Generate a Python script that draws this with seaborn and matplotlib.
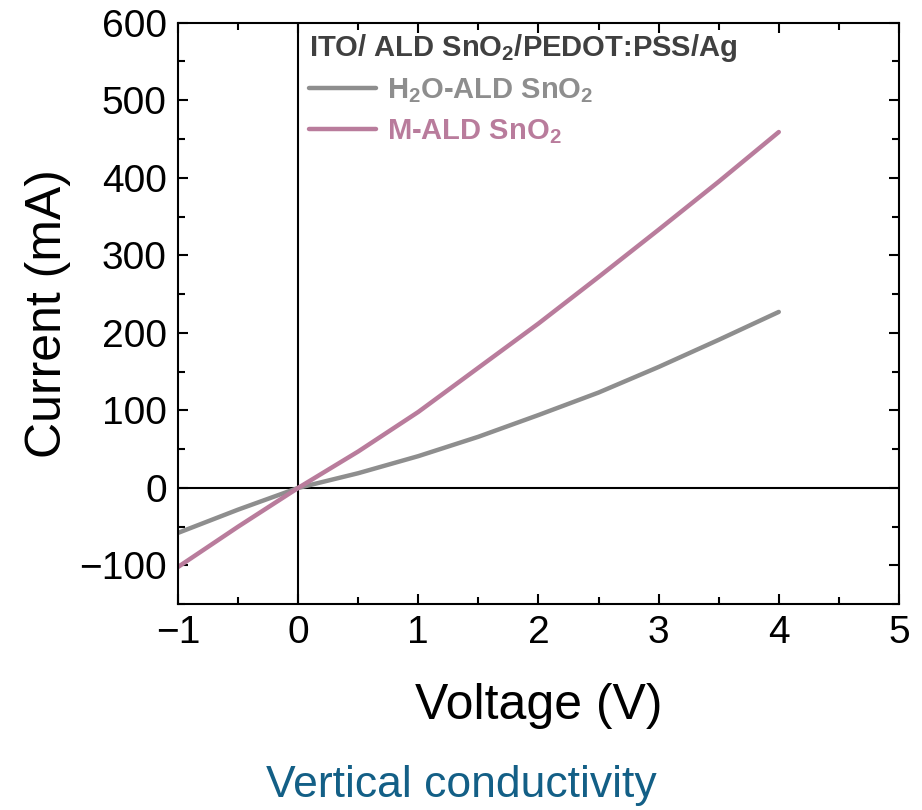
import pandas as pd
import matplotlib
matplotlib.use("Agg")
import matplotlib.pyplot as plt
import seaborn as sns

voltage = [-1, -0.5, 0, 0.5, 1, 1.5, 2, 2.5, 3, 3.5, 4]
current_h2o = [-58, -28, 0, 19, 41, 66, 94, 123, 156, 191, 227]
current_m = [-102, -50, 0, 47, 98, 155, 212, 272, 333, 395, 459]
labels = [r"H$_\mathbf{2}$O-ALD SnO$_\mathbf{2}$", r"M-ALD SnO$_\mathbf{2}$"]
colors = ["#8e8e8e", "#b97c9c"]

df = pd.concat([
    pd.DataFrame({"Voltage": voltage, "Current": current_h2o, "Sample": labels[0]}),
    pd.DataFrame({"Voltage": voltage, "Current": current_m, "Sample": labels[1]}),
])

sns.set_style("ticks")
plt.rcParams["font.family"] = ["Liberation Sans", "DejaVu Sans"]
plt.rcParams["mathtext.fontset"] = "custom"
plt.rcParams["mathtext.rm"] = "Liberation Sans"
plt.rcParams["mathtext.bf"] = "Liberation Sans:bold"
for k in ["text.color", "axes.labelcolor", "xtick.color", "ytick.color", "axes.edgecolor"]:
    plt.rcParams[k] = "black"

fig = plt.figure(figsize=(9.22, 8.10), dpi=100)
ax = fig.add_axes([0.193, 0.254, 0.782, 0.718])

ax.axhline(0, color="black", lw=1.5, zorder=1)
ax.axvline(0, color="black", lw=1.5, zorder=1)
sns.lineplot(data=df, x="Voltage", y="Current", hue="Sample", palette=colors,
             lw=3.2, ax=ax, zorder=2)

ax.set_xlim(-1, 5)
ax.set_ylim(-150, 600)
ax.set_xticks([-1, 0, 1, 2, 3, 4, 5])
ax.set_yticks([-100, 0, 100, 200, 300, 400, 500, 600])
ax.set_xticks([-0.5, 0.5, 1.5, 2.5, 3.5, 4.5], minor=True)
ax.set_yticks([-150, -50, 50, 150, 250, 350, 450, 550], minor=True)
ax.tick_params(which="both", direction="in", top=True, right=True, width=1.5)
ax.tick_params(which="major", length=7.5, labelsize=28, pad=8)
ax.tick_params(which="minor", length=5)
for s in ax.spines.values():
    s.set_linewidth(1.5)

ax.set_xlabel("Voltage (V)", fontsize=36, labelpad=23)
ax.set_ylabel("Current (mA)", fontsize=36, labelpad=6)

leg = ax.legend(title="ITO/ ALD SnO$_\\mathbf{2}$/PEDOT:PSS/Ag", loc="upper left",
                bbox_to_anchor=(0.172, 0.997), frameon=False, fontsize=21,
                labelcolor="linecolor", handlelength=2.3, handletextpad=0.35,
                borderaxespad=0.1, borderpad=0.15, labelspacing=0.42,
                alignment="left")
leg.get_title().set_fontsize(21)
leg.get_title().set_fontweight("bold")
leg.get_title().set_color("#404040")
for t in leg.get_texts():
    t.set_fontweight("bold")

fig.text(0.5, 0.0165, "Vertical conductivity", fontsize=32, color="#135f86",
         ha="center", va="baseline")

fig.savefig("out.png", dpi=100)
